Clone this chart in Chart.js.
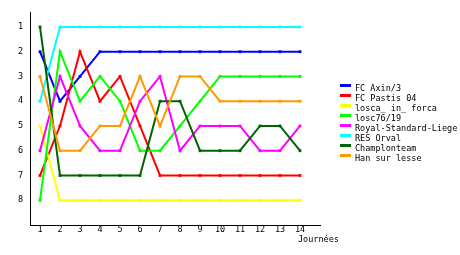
<!DOCTYPE html>
<html>
<head>
<meta charset="utf-8">
<script src="https://cdn.jsdelivr.net/npm/chart.js@4/dist/chart.umd.min.js"></script>
<style>
  html, body { margin: 0; padding: 0; background: #fff; }
  #wrap { width: 460px; height: 255px; }
</style>
</head>
<body>
<div id="wrap"><canvas id="c" width="460" height="255"></canvas></div>
<script>
// --- Données ---
const journees = [1, 2, 3, 4, 5, 6, 7, 8, 9, 10, 11, 12, 13, 14];
const rangs = [1, 2, 3, 4, 5, 6, 7, 8];

const equipes = ['FC Axin/3', 'FC Pastis 04', 'losca_ in_ forca', 'losc76/19',
                 'Royal-Standard-Liege', 'RES Orval', 'Champlonteam', 'Han sur lesse'];
const couleurs = ['#0000ff', '#ff0000', '#ffff00', '#00ff00',
                  '#ff00ff', '#00ffff', '#006400', '#ff9900'];

const fcAxin    = [2, 4, 3, 2, 2, 2, 2, 2, 2, 2, 2, 2, 2, 2];
const fcPastis  = [7, 5, 2, 4, 3, 5, 7, 7, 7, 7, 7, 7, 7, 7];
const losca     = [5, 8, 8, 8, 8, 8, 8, 8, 8, 8, 8, 8, 8, 8];
const losc76    = [8, 2, 4, 3, 4, 6, 6, 5, 4, 3, 3, 3, 3, 3];
const royal     = [6, 3, 5, 6, 6, 4, 3, 6, 5, 5, 5, 6, 6, 5];
const resOrval  = [4, 1, 1, 1, 1, 1, 1, 1, 1, 1, 1, 1, 1, 1];
const champlon  = [1, 7, 7, 7, 7, 7, 4, 4, 6, 6, 6, 5, 5, 6];
const hanLesse  = [3, 6, 6, 5, 5, 3, 5, 3, 3, 4, 4, 4, 4, 4];

const series = [fcAxin, fcPastis, losca, losc76, royal, resOrval, champlon, hanLesse];

const police = '8.5px "DejaVu Sans Mono", monospace';

// Légende et titre de l'axe dessinés à la main (position fixe à droite)
const legendePlugin = {
  id: 'legende',
  afterDraw(chart) {
    const ctx = chart.ctx;
    ctx.save();
    ctx.font = police;
    ctx.textBaseline = 'middle';
    equipes.forEach((nom, i) => {
      const y = 85 + i * 10;
      ctx.fillStyle = couleurs[i];
      ctx.fillRect(340, y - 1, 11, 3);
      ctx.fillStyle = '#000';
      ctx.fillText(nom, 355, y + 4);
    });
    ctx.fillStyle = '#000';
    ctx.fillText('Journées', 298, 240);
    ctx.restore();
  }
};

new Chart(document.getElementById('c'), {
  type: 'line',
  data: {
    datasets: series.map((vals, i) => ({
      label: equipes[i],
      data: vals.map((v, j) => ({ x: journees[j], y: v })),
      borderColor: couleurs[i],
      backgroundColor: couleurs[i],
      borderWidth: 2,
      pointStyle: 'rect',
      pointRadius: 2,
      pointBorderWidth: 0,
      tension: 0,
      order: -i
    }))
  },
  options: {
    responsive: false,
    animation: false,
    events: [],
    layout: { padding: { top: 10, right: 140, left: 0, bottom: 0 } },
    plugins: { legend: { display: false }, tooltip: { enabled: false } },
    scales: {
      x: {
        type: 'linear',
        min: 0.5,
        max: 15,
        afterBuildTicks: (s) => { s.ticks = journees.map(v => ({ value: v })); },
        afterFit: (s) => { s.height = 30; },
        grid: { display: false, drawTicks: false },
        border: { color: '#000', width: 1 },
        ticks: { color: '#000', font: { family: 'DejaVu Sans Mono', size: 8.5 }, padding: 0, maxRotation: 0 }
      },
      y: {
        type: 'linear',
        reverse: true,
        min: 0.4,
        max: 9,
        afterBuildTicks: (s) => { s.ticks = rangs.map(v => ({ value: v })); },
        afterFit: (s) => { s.width = 30; },
        grid: { display: false, drawTicks: false },
        border: { color: '#000', width: 1 },
        ticks: { color: '#000', font: { family: 'DejaVu Sans Mono', size: 8.5 }, padding: 7 }
      }
    }
  },
  plugins: [legendePlugin]
});
</script>
</body>
</html>
